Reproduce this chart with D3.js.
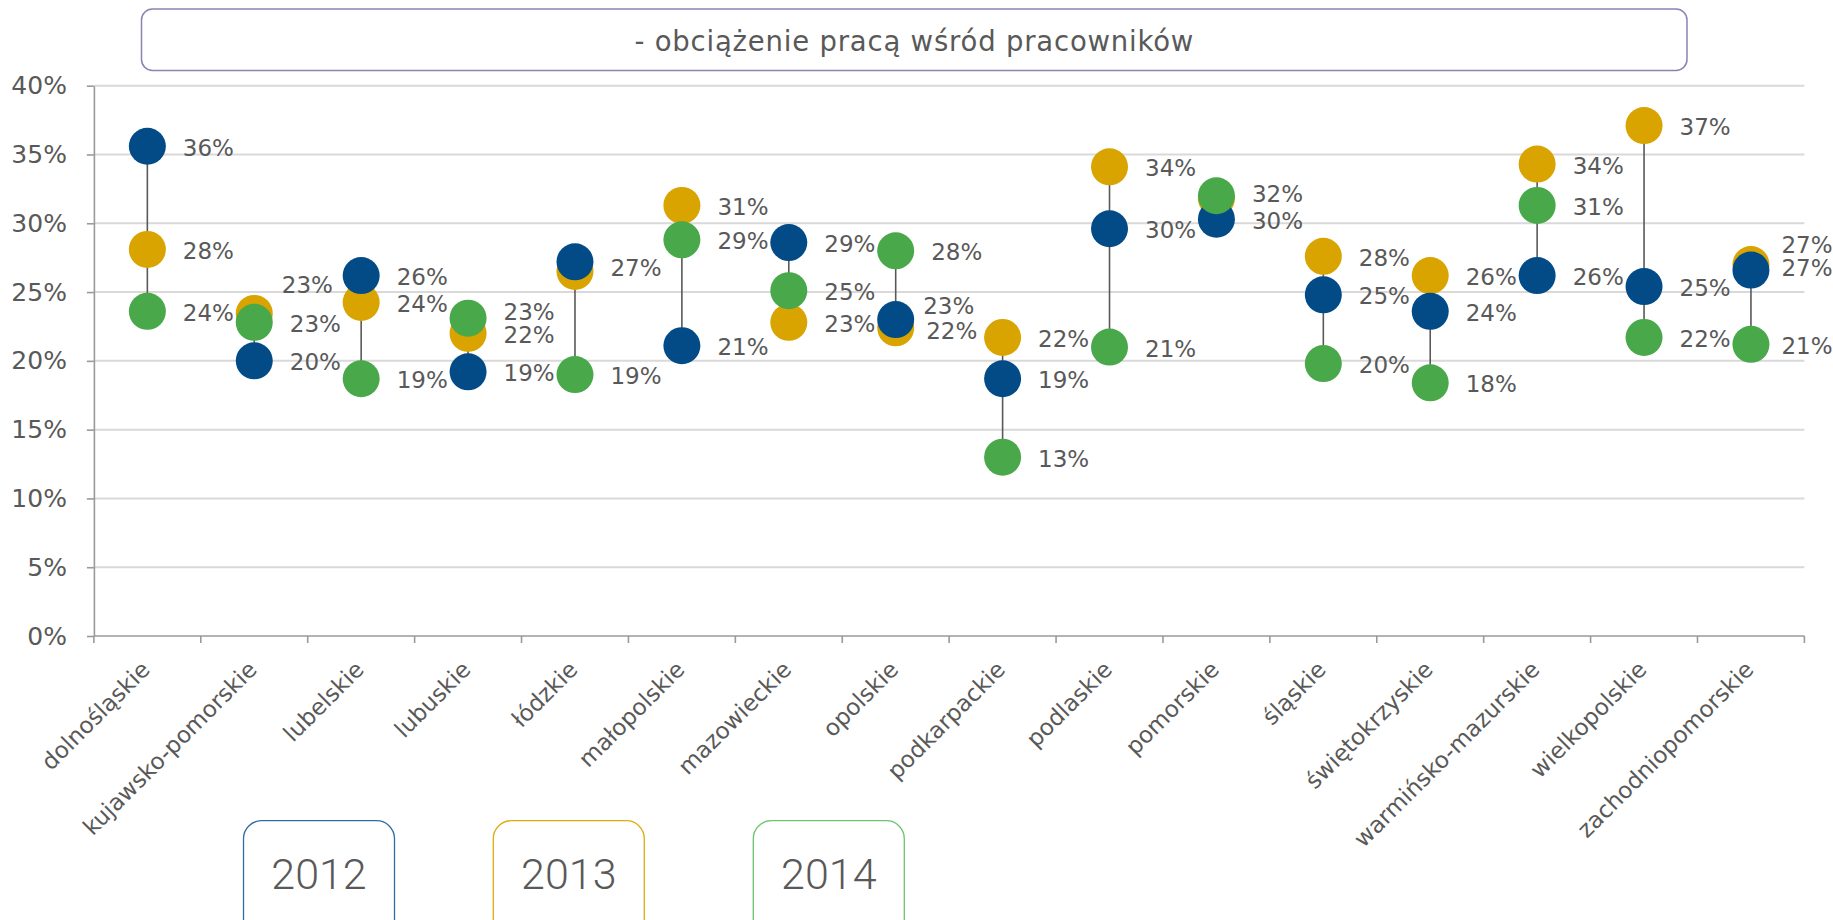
<!DOCTYPE html>
<html>
<head>
<meta charset="utf-8">
<script src="https://cdn.jsdelivr.net/npm/d3@7"></script>
<style>
  html, body { margin: 0; padding: 0; background: #ffffff; }
  svg { display: block; }
</style>
</head>
<body>
<svg id="chart" width="1833" height="920"></svg>
<script>
// ---------- data ----------
const categories = ["dolnośląskie", "kujawsko-pomorskie", "lubelskie", "lubuskie", "łódzkie",
  "małopolskie", "mazowieckie", "opolskie", "podkarpackie", "podlaskie", "pomorskie",
  "śląskie", "świętokrzyskie", "warmińsko-mazurskie", "wielkopolskie", "zachodniopomorskie"];
const years = ["2012", "2013", "2014"];
const values2012 = [35.6, 20.0, 26.2, 19.2, 27.2, 21.1, 28.6, 23.0, 18.7, 29.6, 30.3, 24.8, 23.6, 26.2, 25.4, 26.6];
const values2013 = [28.1, 23.45, 24.25, 22.0, 26.5, 31.3, 22.8, 22.4, 21.7, 34.1, 31.8, 27.6, 26.2, 34.3, 37.1, 27.0];
const values2014 = [23.6, 22.8, 18.7, 23.1, 19.0, 28.8, 25.1, 28.0, 13.0, 21.0, 32.0, 19.8, 18.4, 31.3, 21.7, 21.2];
const yTicks = [0, 5, 10, 15, 20, 25, 30, 35, 40];
const titleText = "- obciążenie pracą wśród pracowników";

// ---------- styling / layout ----------
const colors = { "2012": "#034b87", "2013": "#d9a300", "2014": "#48a84a" };
const legendBorder = { "2012": "#2e6ca6", "2013": "#e0aa10", "2014": "#6cc46c" };
const textColor = "#595959";
const font = "'DejaVu Sans', sans-serif";
// label nudges (dx, dy) to avoid overlaps; null = label hidden behind another one
const labelNudge = {
  "2013-1": [-8, -30], "2014-3": [0, -8], "2012-4": [0, 5], "2013-4": null,
  "2012-7": [-8, -15], "2013-7": [-5, 2], "2013-10": null, "2014-10": [0, -3.5],
  "2013-15": [-5, -21.5], "2012-15": [-5, -4], "2014-15": [-5, 0]
};

const svg = d3.select("#chart");
const plot = { left: 93.9, right: 1804.4, top: 85.7, bottom: 636 };

const x = d3.scaleBand().domain(categories).range([plot.left, plot.right]).padding(0);
const y = d3.scaleLinear().domain([0, 40]).range([plot.bottom, plot.top]);

// ---------- title box ----------
svg.append("rect")
  .attr("x", 141.5).attr("y", 9).attr("width", 1545.5).attr("height", 61.5)
  .attr("rx", 11).attr("ry", 11)
  .attr("fill", "#ffffff").attr("stroke", "#8a84b4").attr("stroke-width", 1.5);
svg.append("text")
  .attr("x", 914.3).attr("y", 50.5)
  .attr("text-anchor", "middle")
  .attr("font-family", font).attr("font-size", 27.5)
  .attr("letter-spacing", "0.8px")
  .attr("fill", textColor)
  .text(titleText);

// ---------- gridlines ----------
svg.append("g").selectAll("line").data(yTicks.filter(d => d > 0)).join("line")
  .attr("x1", plot.left).attr("x2", plot.right)
  .attr("y1", d => y(d)).attr("y2", d => y(d))
  .attr("stroke", "#d9d9d9").attr("stroke-width", 2);

// ---------- y axis ----------
const yAxis = svg.append("g").attr("transform", `translate(${plot.left},0)`)
  .call(d3.axisLeft(y).tickValues(yTicks).tickFormat(d => d + "%").tickSize(7).tickSizeOuter(0).tickPadding(20));
yAxis.select(".domain").attr("stroke", "#9a9a9a").attr("stroke-width", 1.6);
yAxis.selectAll(".tick line").attr("stroke", "#9a9a9a").attr("stroke-width", 1.6);
yAxis.selectAll(".tick text").attr("font-family", font).attr("font-size", 25).attr("fill", textColor);

// ---------- x axis ----------
const xAxisG = svg.append("g");
xAxisG.append("line")
  .attr("x1", plot.left).attr("x2", plot.right)
  .attr("y1", plot.bottom).attr("y2", plot.bottom)
  .attr("stroke", "#9a9a9a").attr("stroke-width", 1.6);
const boundaries = categories.map(c => x(c)).concat([x.range()[1]]);
xAxisG.selectAll("line.tk").data(boundaries).join("line").attr("class", "tk")
  .attr("x1", d => d).attr("x2", d => d)
  .attr("y1", plot.bottom).attr("y2", plot.bottom + 7)
  .attr("stroke", "#9a9a9a").attr("stroke-width", 1.6);
xAxisG.selectAll("text").data(categories).join("text")
  .attr("transform", d => `translate(${x(d) + x.bandwidth() / 2 + 4},${plot.bottom + 35}) rotate(-45)`)
  .attr("text-anchor", "end")
  .attr("font-family", font).attr("font-size", 23)
  .attr("fill", textColor)
  .text(d => d);

// ---------- data structure ----------
const seriesValues = { "2012": values2012, "2013": values2013, "2014": values2014 };
const rows = categories.map((c, i) => ({
  cat: c, i,
  vals: years.map(yr => seriesValues[yr][i])
}));

// connecting lines
svg.append("g").selectAll("line").data(rows).join("line")
  .attr("x1", d => x(d.cat) + x.bandwidth() / 2)
  .attr("x2", d => x(d.cat) + x.bandwidth() / 2)
  .attr("y1", d => y(d3.max(d.vals)))
  .attr("y2", d => y(d3.min(d.vals)))
  .attr("stroke", "#595959").attr("stroke-width", 1.6);

// dots: drawing order 2013, 2012, 2014
const drawOrder = ["2013", "2012", "2014"];
drawOrder.forEach(yr => {
  svg.append("g").selectAll("circle").data(seriesValues[yr]).join("circle")
    .attr("cx", (d, i) => x(categories[i]) + x.bandwidth() / 2)
    .attr("cy", d => y(d))
    .attr("r", 18.5)
    .attr("fill", colors[yr]);
});

// labels
const labelG = svg.append("g");
years.forEach(yr => {
  seriesValues[yr].forEach((v, i) => {
    const key = yr + "-" + i;
    let nudge = [0, 0];
    if (key in labelNudge) {
      if (labelNudge[key] === null) return;
      nudge = labelNudge[key];
    }
    labelG.append("text")
      .attr("x", x(categories[i]) + x.bandwidth() / 2 + 35.5 + nudge[0])
      .attr("y", y(v) + 1.5 + nudge[1])
      .attr("dominant-baseline", "central")
      .attr("font-family", font).attr("font-size", 23)
      .attr("fill", textColor)
      .text(Math.round(v) + "%");
  });
});

// ---------- legend ----------
const legendX = [243.5, 493.3, 753.3];
const lg = svg.append("g");
years.forEach((yr, k) => {
  lg.append("rect")
    .attr("x", legendX[k]).attr("y", 820.7).attr("width", 151).attr("height", 140)
    .attr("rx", 18).attr("ry", 18)
    .attr("fill", "#ffffff").attr("stroke", legendBorder[yr]).attr("stroke-width", 1.3);
  lg.append("text")
    .attr("x", legendX[k] + 75.5).attr("y", 874.2)
    .attr("text-anchor", "middle").attr("dominant-baseline", "central")
    .attr("font-family", "Roboto, sans-serif").attr("font-size", 43).attr("font-weight", 300)
    .attr("fill", textColor)
    .text(yr);
});
</script>
</body>
</html>
